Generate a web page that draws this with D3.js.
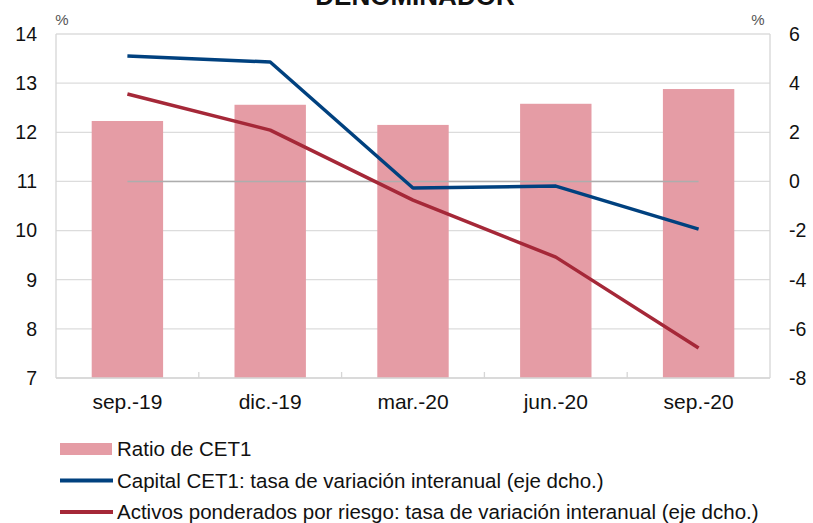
<!DOCTYPE html>
<html>
<head>
<meta charset="utf-8">
<script src="https://cdn.jsdelivr.net/npm/d3@7"></script>
<style>
  body { margin: 0; background: #fff; }
  text { font-family: "Liberation Sans", Arial, sans-serif; fill: #111; }
</style>
</head>
<body>
<svg id="chart" width="813" height="523"></svg>
<script>
// data
const categories = ["sep.-19", "dic.-19", "mar.-20", "jun.-20", "sep.-20"];
const ratioCET1 = [12.23, 12.56, 12.15, 12.58, 12.88];
const capitalCET1 = [5.1, 4.86, -0.27, -0.19, -1.94];
const activosAPR = [3.56, 2.09, -0.76, -3.08, -6.78];
const leftTicks = [7, 8, 9, 10, 11, 12, 13, 14];
const rightTicks = [-8, -6, -4, -2, 0, 2, 4, 6];

const svg = d3.select("#chart");
const plotL = 56, plotR = 770, plotT = 34, plotB = 378;

const x = d3.scaleBand().domain(categories).range([plotL, plotR]).paddingInner(0.5).paddingOuter(0.25);
const xc = d => x(d) + x.bandwidth() / 2;
const yL = d3.scaleLinear().domain([7, 14]).range([plotB, plotT]);
const yR = d3.scaleLinear().domain([-8, 6]).range([plotB, plotT]);

// title (cut off at the top, as in the source)
svg.append("text").attr("x", 415).attr("y", 5).attr("text-anchor", "middle")
  .style("font-weight", "bold").style("font-size", "26px").text("DENOMINADOR");

// gridlines
svg.append("g").selectAll("line").data(leftTicks).enter().append("line")
  .attr("x1", plotL).attr("x2", plotR)
  .attr("y1", d => yL(d)).attr("y2", d => yL(d))
  .attr("stroke", "#dcdcdc").attr("stroke-width", 1.3);

// axis frame lines
svg.append("line").attr("x1", plotL).attr("x2", plotL).attr("y1", plotT).attr("y2", plotB).attr("stroke", "#d6d6d6").attr("stroke-width", 1.3);
svg.append("line").attr("x1", plotR).attr("x2", plotR).attr("y1", plotT).attr("y2", plotB).attr("stroke", "#d6d6d6").attr("stroke-width", 1.3);

// bottom axis inner ticks at category boundaries
svg.append("g").selectAll("line").data(d3.range(1, categories.length)).enter().append("line")
  .attr("x1", i => plotL + i * (plotR - plotL) / categories.length)
  .attr("x2", i => plotL + i * (plotR - plotL) / categories.length)
  .attr("y1", plotB - 6).attr("y2", plotB)
  .attr("stroke", "#d6d6d6").attr("stroke-width", 1.3);

// bars
svg.append("g").selectAll("rect").data(ratioCET1).enter().append("rect")
  .attr("x", (d, i) => x(categories[i]))
  .attr("width", x.bandwidth())
  .attr("y", d => yL(d))
  .attr("height", d => yL(7) - yL(d))
  .attr("fill", "#e59ca5");

svg.append("line").attr("x1", plotL).attr("x2", plotR).attr("y1", plotB).attr("y2", plotB).attr("stroke", "#d6d6d6").attr("stroke-width", 1.3);

// zero reference line on right axis
svg.append("line")
  .attr("x1", xc(categories[0])).attr("x2", xc(categories[categories.length - 1]))
  .attr("y1", yR(0)).attr("y2", yR(0))
  .attr("stroke", "#adadad").attr("stroke-width", 1.5);

const line = d3.line().x((d, i) => xc(categories[i])).y(d => yR(d));

svg.append("path").datum(activosAPR).attr("d", line)
  .attr("fill", "none").attr("stroke", "#a52838").attr("stroke-width", 3.5).attr("stroke-linejoin", "round");
svg.append("path").datum(capitalCET1).attr("d", line)
  .attr("fill", "none").attr("stroke", "#00417f").attr("stroke-width", 3.5).attr("stroke-linejoin", "round");

// axis labels
svg.append("g").selectAll("text").data(leftTicks).enter().append("text")
  .attr("x", 37).attr("y", d => yL(d)).attr("dy", "0.35em").attr("text-anchor", "end")
  .style("font-size", "19.5px").text(d => d);
svg.append("g").selectAll("text").data(rightTicks).enter().append("text")
  .attr("x", 789).attr("y", d => yR(d)).attr("dy", "0.35em").attr("text-anchor", "start")
  .style("font-size", "19.5px").text(d => d);
svg.append("g").selectAll("text").data(categories).enter().append("text")
  .attr("x", d => xc(d)).attr("y", 409).attr("text-anchor", "middle")
  .style("font-size", "21px").text(d => d);

svg.append("text").attr("x", 62).attr("y", 25).attr("text-anchor", "middle").style("font-size", "15px").style("fill", "#555").text("%");
svg.append("text").attr("x", 758).attr("y", 25).attr("text-anchor", "middle").style("font-size", "15px").style("fill", "#555").text("%");

// legend
const legend = [
  { label: "Ratio de CET1", type: "bar", color: "#e59ca5" },
  { label: "Capital CET1: tasa de variación interanual (eje dcho.)", type: "line", color: "#00417f" },
  { label: "Activos ponderados por riesgo: tasa de variación interanual (eje dcho.)", type: "line", color: "#a52838" }
];
const lg = svg.append("g").selectAll("g").data(legend).enter().append("g")
  .attr("transform", (d, i) => `translate(60,${449 + i * 31.5})`);
lg.filter(d => d.type === "bar").append("rect").attr("x", 0).attr("y", -6).attr("width", 52).attr("height", 12).attr("fill", d => d.color);
lg.filter(d => d.type === "line").append("line").attr("x1", 0).attr("x2", 53).attr("y1", 0).attr("y2", 0)
  .attr("stroke", d => d.color).attr("stroke-width", 4);
lg.append("text").attr("x", 57).attr("y", 0).attr("dy", "0.35em").style("font-size", "20.5px").text(d => d.label);
</script>
</body>
</html>
